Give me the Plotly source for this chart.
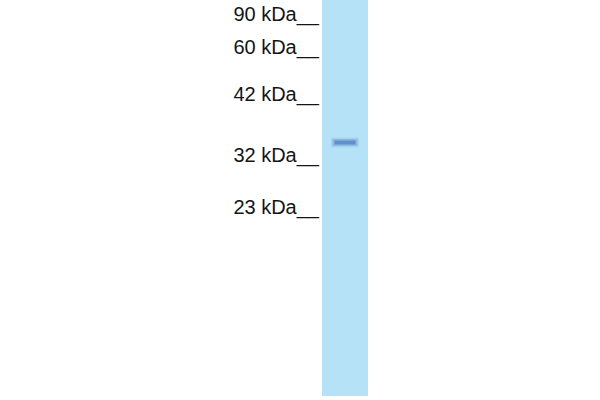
import plotly.graph_objects as go

# molecular weight ladder (label, migration distance from the well)
MARKER_LABELS = ["90 kDa", "60 kDa", "42 kDa", "32 kDa", "23 kDa"]
MARKER_DIST = [16, 49, 96, 157, 209]

# sample lane: total run length and detected band
LANE_LENGTH = [396]
BAND_DIST = [142.5]

LANE_X = 345      # lane centre on the image
LABEL_X = 319     # right edge of the ladder labels

fig = go.Figure()

# membrane lane
fig.add_trace(go.Bar(
    x=[LANE_X], y=LANE_LENGTH, base=[0], width=46,
    marker=dict(color="#b5e2f6", line=dict(width=0)),
    showlegend=False, hoverinfo="skip",
))

# band, drawn as a few layers so it looks a bit blurred
for w, h, col in [(28, 10, "rgba(140,185,230,0.35)"),
                  (25, 7, "rgba(110,160,215,0.5)"),
                  (21, 4, "rgba(80,125,190,0.7)")]:
    fig.add_trace(go.Bar(
        x=[LANE_X] * len(BAND_DIST), y=[h] * len(BAND_DIST),
        base=[d - h / 2 for d in BAND_DIST], width=w,
        marker=dict(color=col, line=dict(width=0)),
        showlegend=False, hoverinfo="skip",
    ))

# ladder labels with the "__" tick marks
fig.add_trace(go.Scatter(
    x=[LABEL_X] * len(MARKER_LABELS), y=MARKER_DIST,
    mode="text", text=[m + "__" for m in MARKER_LABELS],
    textposition="middle left",
    textfont=dict(family="Liberation Sans, Arial", size=20, color="#151515"),
    showlegend=False, hoverinfo="skip",
))

fig.update_layout(
    width=600, height=400,
    margin=dict(l=0, r=0, t=0, b=0),
    paper_bgcolor="white", plot_bgcolor="white",
    barmode="overlay",
)
fig.update_xaxes(range=[0, 600], visible=False)
fig.update_yaxes(range=[400, 0], visible=False)

# drop the default page margin so the figure sits at the window corner
fig.write_html("out.html", config={"displayModeBar": False},
               post_script="document.body.style.margin='0';")
